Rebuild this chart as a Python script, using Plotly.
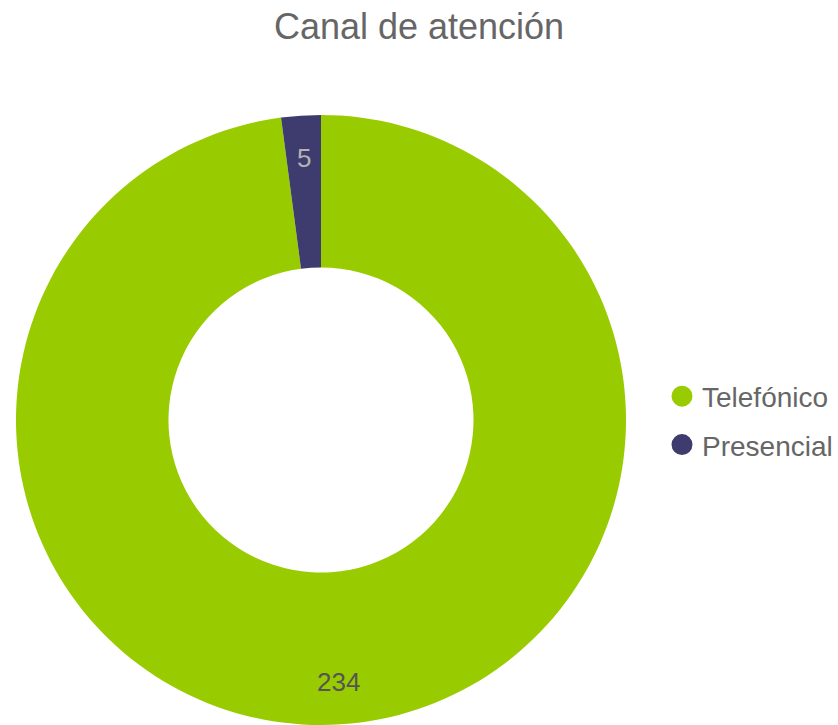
import numpy as np
import plotly.graph_objects as go

title = "Canal de atención"
labels = ["Telefónico", "Presencial"]
values = [234, 5]
colors = ["#99cc00", "#3e3c6f"]
label_colors = ["#555555", "#b3b3b3"]

W, H = 838, 725
dom_x = [15 / W, 627 / W]
dom_y = [0.0, 0.8414]

fig = go.Figure()
fig.add_trace(go.Pie(
    labels=labels, values=values, hole=0.5, sort=False,
    direction="clockwise", rotation=0,
    marker=dict(colors=colors, line=dict(width=0)),
    textinfo="none", hoverinfo="label+value",
    showlegend=False, domain=dict(x=dom_x, y=dom_y),
))

# legend entries with circular markers
for lab, col in zip(labels, colors):
    fig.add_trace(go.Scatter(
        x=[None], y=[None], mode="markers", name=lab, legendgroup=lab,
        marker=dict(symbol="circle", size=16, color=col,
                    line=dict(width=5, color=col)),
    ))

# value labels placed along the slice mid-angles
vals = np.array(values, dtype=float)
cum = np.cumsum(vals)
mid = (cum - vals / 2) / vals.sum() * 2 * np.pi
r_px = min((dom_x[1] - dom_x[0]) * W, (dom_y[1] - dom_y[0]) * H) / 2
cx = (dom_x[0] + dom_x[1]) / 2
cy = (dom_y[0] + dom_y[1]) / 2
rr = 0.86 * r_px
for v, a, c in zip(values, mid, label_colors):
    fig.add_annotation(
        x=cx + rr * np.sin(a) / W, y=cy + rr * np.cos(a) / H,
        xref="paper", yref="paper", text=str(v), showarrow=False,
        font=dict(size=26, color=c, family="Liberation Sans, Arial, sans-serif"),
        xanchor="center", yanchor="middle",
    )

fig.update_layout(
    width=W, height=H,
    margin=dict(l=0, r=0, t=0, b=0),
    paper_bgcolor="white", plot_bgcolor="white",
    font=dict(family="Liberation Sans, Arial, sans-serif", color="#666666"),
    title=dict(text=title, x=0.5, xanchor="center", y=0.963, yanchor="middle",
               font=dict(size=36, color="#666666")),
    xaxis=dict(visible=False), yaxis=dict(visible=False),
    legend=dict(x=0.79, xanchor="left", y=0.42, yanchor="middle",
                font=dict(size=28, color="#666666"), itemsizing="trace",
                tracegroupgap=9),
)

fig.write_html("out.html", config={"displayModeBar": False},
               post_script="document.body.style.margin='0';")
